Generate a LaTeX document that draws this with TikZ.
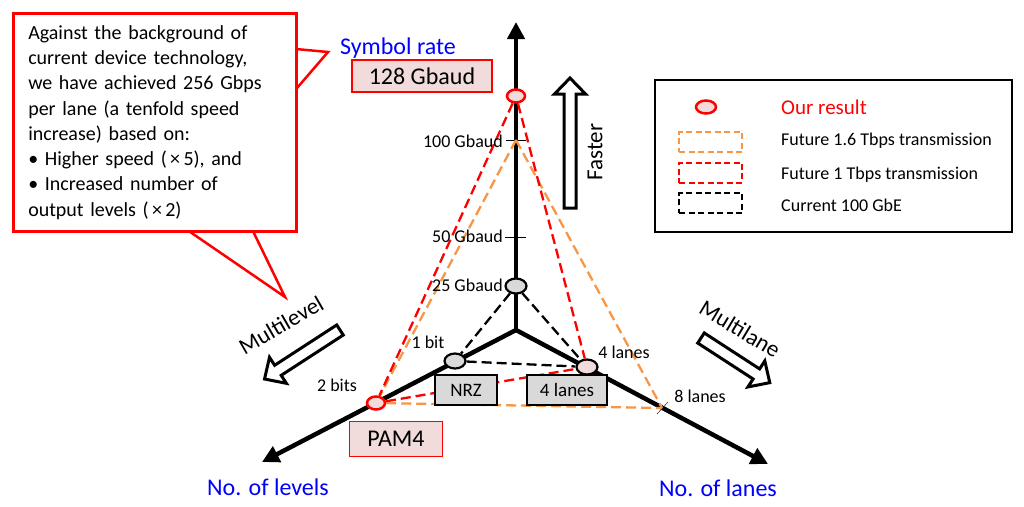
\documentclass[tikz,border=0pt]{standalone}
\usepackage{fontspec}
\setmainfont{Carlito}
\usetikzlibrary{arrows.meta,shapes.geometric}

\definecolor{orangedash}{RGB}{247,150,70}
\definecolor{pinkfill}{RGB}{242,220,219}
\definecolor{greyfill}{RGB}{217,217,217}
\definecolor{axisblue}{RGB}{0,0,255}

\tikzset{
  axis/.style={line width=4.5pt, -{Triangle[length=17pt,width=17pt]}},
  ourpt/.style={ellipse, draw=red, line width=2.5pt, fill=pinkfill, minimum width=18pt, minimum height=13pt, inner sep=0pt},
  refpt/.style={ellipse, draw=black, line width=2.2pt, fill=greyfill, minimum width=21pt, minimum height=15pt, inner sep=0pt},
  tbps16/.style={draw=orangedash, line width=2.3pt, dash pattern=on 10pt off 5pt},
  tbps1/.style={draw=red, line width=2.3pt, dash pattern=on 10pt off 5pt},
  gbe100/.style={draw=black, line width=2.3pt, dash pattern=on 10pt off 5pt},
  valbox/.style={draw=red, line width=1.2pt, fill=pinkfill, font=\fontsize{24}{28}\selectfont, inner sep=0pt},
  fmtbox/.style={draw=black, line width=1.2pt, fill=greyfill, font=\fontsize{19}{22}\selectfont, inner sep=0pt},
  ticklab/.style={font=\fontsize{18}{20}\selectfont, inner sep=0pt},
  axislab/.style={text=axisblue, font=\fontsize{24}{28}\selectfont, inner sep=0pt},
  trendlab/.style={font=\fontsize{23}{26}\selectfont, inner sep=0pt},
  keytext/.style={anchor=west, font=\fontsize{18}{20}\selectfont, inner sep=0pt},
  keybox/.style={minimum width=63pt, minimum height=20pt, inner sep=0pt, line width=2pt, dash pattern=on 6pt off 3.5pt},
  pics/blockarrow/.style={code={
    \draw[line width=3pt, fill=white, line join=miter]
      (0,-6) -- ({#1-16},-6) -- ({#1-16},-15.5) -- (#1,0) -- ({#1-16},15.5) -- ({#1-16},6) -- (0,6) -- cycle;}}
}

\begin{document}
\begin{tikzpicture}[x=1pt,y=-1pt]
\useasboundingbox (0,0) rectangle (1024,506);

% Three axes
\coordinate (O) at (516,330);
\coordinate (rateEnd) at (516,22);
\coordinate (levelEnd) at (262,462);
\coordinate (laneEnd) at (768,464);
\draw[axis] (O) -- (rateEnd);
\draw[axis] (O) -- (levelEnd);
\draw[axis] (O) -- (laneEnd);

% Ticks
\coordinate (g100) at (516,140);
\coordinate (g50) at (516,237);
\coordinate (l8) at (662,408);
\draw ([xshift=-10pt]g100) -- ([xshift=10pt]g100);
\draw ([xshift=-11pt]g50) -- ([xshift=10pt]g50);
\draw ([shift={(6,-6)}]l8) -- ([shift={(-5,6)}]l8);

% Operating points
\node[ourpt] (r128) at (516,96) {};
\node[refpt] (r25) at (516,286) {};
\node[refpt] (b1) at (455,361) {};
\node[ourpt] (b2) at (376,403) {};
\node[refpt, fill=pinkfill] (l4) at (587,367) {};

% Dashed triangles
\foreach \a/\b in {g100/b2, g100/l8, b2/l8}
  \draw[tbps16] (\a) -- (\b);
\foreach \a/\b in {r128/b2, r128/l4, b2/l4}
  \draw[tbps1] (\a) -- (\b);
\foreach \a/\b in {r25/b1, r25/l4, b1/l4}
  \draw[gbe100] (\a) -- (\b);

% Value boxes and axis names
\node[axislab] (rateName) at (398,48) {Symbol rate};
\node[valbox, minimum width=140pt, minimum height=32pt] (rateTag) at (422,76) {128 Gbaud};
\node[valbox, minimum width=93pt, minimum height=35pt] (levelTag) at (396,439) {PAM4};
\node[fmtbox, minimum width=62pt, minimum height=30pt] (nrzTag) at (466,390) {NRZ};
\node[fmtbox, minimum width=80pt, minimum height=30pt] (laneTag) at (567,390) {4 lanes};
\node[axislab] (levelName) at (268,487) {No. of levels};
\node[axislab] (laneName) at (718,488) {No. of lanes};

% Tick labels
\node[ticklab, anchor=east] (t100) at (503,141) {100 Gbaud};
\node[ticklab, anchor=east] (t50) at (503,236) {50 Gbaud};
\node[ticklab, anchor=east] (t25) at (503,285) {25 Gbaud};
\node[ticklab] (t1bit) at (428,342) {1 bit};
\node[ticklab] (t2bit) at (337,385) {2 bits};
\node[ticklab] (t4lane) at (624,352) {4 lanes};
\node[ticklab] (t8lane) at (700,396) {8 lanes};

% Trend arrows
\pic[rotate=90] at (570,208) {blockarrow=130};
\pic[rotate=213] at (340,330) {blockarrow=90};
\pic[rotate=-33] at (701,338) {blockarrow=82};
\node[trendlab, rotate=90] (fastText) at (595,152) {Faster};
\node[trendlab, rotate=30] (levelText) at (281,325) {Multilevel};
\node[trendlab, rotate=-31] (laneText) at (740,329) {Multilane};

% Callout
\draw[red, line width=2.5pt, fill=white] (285,48) -- (328,52) -- (285,102) -- cycle;
\draw[red, line width=2.5pt, fill=white] (180,225) -- (285,297) -- (250,225) -- cycle;
\node[draw=red, line width=2.5pt, fill=white, anchor=north west, text width=253pt, align=left,
      inner xsep=15pt, inner ysep=12pt, font=\fontsize{20}{25.3}\selectfont] (note) at (12,12)
  {Against the background of\\
   current device technology,\\
   we have achieved 256 Gbps\\
   per lane (a tenfold speed\\
   increase) based on:\\
   • Higher speed (\,×\,5), and\\
   • Increased number of\\
   output levels (\,×\,2)};

% Legend
\node[draw, line width=2.5pt, minimum width=357pt, minimum height=152pt] (legend) at (833.5,156) {};
\node[ourpt, minimum width=20pt] (keyOur) at (706,107) {};
\node[keybox, draw=orangedash] (key16) at (710.5,142) {};
\node[keybox, draw=red] (key1) at (710.5,172.5) {};
\node[keybox, draw=black] (keyGbe) at (710.5,203) {};
\node[keytext, text=red, font=\fontsize{21}{24}\selectfont] (txtOur) at (781,107) {Our result};
\node[keytext] (txt16) at (781,141) {Future 1.6 Tbps transmission};
\node[keytext] (txt1) at (781,175) {Future 1 Tbps transmission};
\node[keytext] (txtGbe) at (781,205) {Current 100 GbE};
\end{tikzpicture}
\end{document}
